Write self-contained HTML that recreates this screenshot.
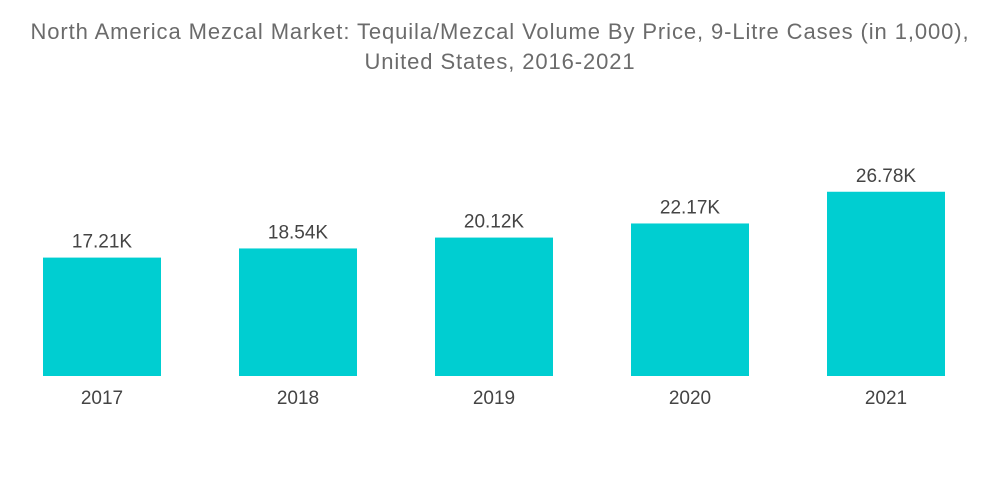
<!DOCTYPE html>
<html><head><meta charset="utf-8"><style>
body{margin:0;background:#fff;width:1000px;height:504px;overflow:hidden;font-family:"Liberation Sans",sans-serif}
#title{position:absolute;left:0;top:17px;width:1000px;text-align:center;color:#6b6b6b;font-size:22px;line-height:30px;letter-spacing:0.9px}
svg{position:absolute;left:0;top:0}
</style></head><body>
<div id="title">North America Mezcal Market: Tequila/Mezcal Volume By Price, 9-Litre Cases (in 1,000),<br>United States, 2016-2021</div>
<svg id="chart" width="1000" height="504"></svg>
<script>
const categories=["2017","2018","2019","2020","2021"];
const values=[17.21,18.54,20.12,22.17,26.78];
const valueLabels=["17.21K","18.54K","20.12K","22.17K","26.78K"];
const svg=document.getElementById('chart');
const NS='http://www.w3.org/2000/svg';
const baseY=376, pxPer=6.88;
function y(v){return baseY-v*pxPer;}
function x(i){return 43+i*196;}
const bw=118;
categories.forEach((c,i)=>{
  const r=document.createElementNS(NS,'rect');
  r.setAttribute('x',x(i));r.setAttribute('y',y(values[i]));
  r.setAttribute('width',bw);r.setAttribute('height',baseY-y(values[i]));
  r.setAttribute('fill','#00CED1');
  
  
  svg.appendChild(r);
  const t=document.createElementNS(NS,'text');
  t.setAttribute('x',x(i)+bw/2);t.setAttribute('y',y(values[i])-10);
  t.setAttribute('text-anchor','middle');t.setAttribute('font-size','19');t.setAttribute('fill','#444');
  t.setAttribute('font-family','Liberation Sans, sans-serif');
  t.textContent=valueLabels[i];
  
  
  svg.appendChild(t);
  const l=document.createElementNS(NS,'text');
  l.setAttribute('x',x(i)+bw/2);l.setAttribute('y',404);
  l.setAttribute('text-anchor','middle');l.setAttribute('font-size','19');l.setAttribute('fill','#444');
  l.setAttribute('font-family','Liberation Sans, sans-serif');
  l.textContent=c;
  
  
  svg.appendChild(l);
});
</script>
</body></html>
